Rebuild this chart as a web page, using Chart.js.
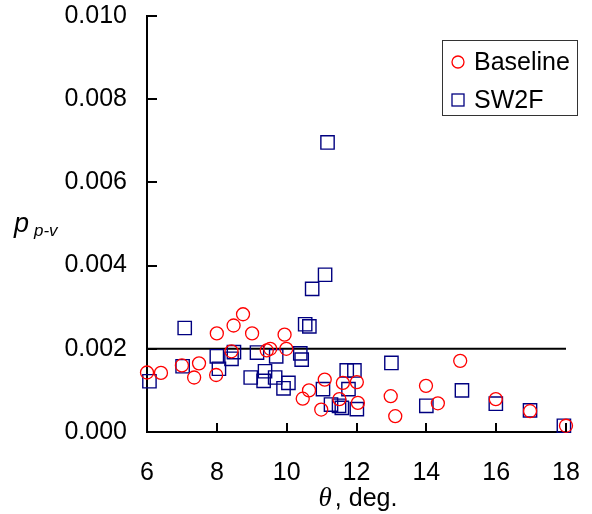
<!DOCTYPE html>
<html>
<head>
<meta charset="utf-8">
<script src="https://cdn.jsdelivr.net/npm/chart.js"></script>
<style>
  html, body { margin: 0; padding: 0; background: #fff; }
  #wrap { width: 592px; height: 514px; }
</style>
</head>
<body>
<div id="wrap"><canvas id="c" width="592" height="514"></canvas></div>
<script>
"use strict";

// datos (theta en grados, p_p-v)
const baselineTheta = [6.0, 6.4, 7.0, 7.35, 7.49, 8.0, 7.98, 8.48, 8.75, 9.01, 8.42, 9.43, 9.53, 9.94, 9.99,
  10.46, 10.64, 10.99, 11.09, 11.61, 12.01, 11.51, 12.04, 12.98, 13.11, 13.99, 14.33, 14.97, 15.99, 16.97, 18.0];
const baselineP = [0.00143, 0.00142, 0.00160, 0.00131, 0.00165, 0.00237, 0.00137, 0.00256, 0.00283, 0.00237, 0.00194, 0.00196, 0.00200, 0.00234, 0.00200,
  0.00080, 0.00100, 0.00054, 0.00126, 0.00118, 0.00120, 0.00079, 0.00070, 0.00086, 0.00038, 0.00111, 0.00069, 0.00171, 0.00079, 0.00050, 0.00015];

const sw2fTheta = [6.07, 7.08, 7.02, 8.0, 8.06, 8.42, 8.49, 8.97, 9.15, 9.34, 9.38, 9.7, 9.67, 9.91, 10.05,
  10.39, 10.43, 10.53, 10.65, 10.73, 11.1, 11.17, 11.04, 11.72, 11.94, 11.77, 11.27, 11.5, 11.58, 12.01,
  13.0, 14.0, 15.02, 15.99, 16.97, 17.94];
const sw2fP = [0.00122, 0.00250, 0.00158, 0.00182, 0.00152, 0.00176, 0.00192, 0.00131, 0.00191, 0.00123, 0.00146, 0.00182, 0.00131, 0.00105, 0.00118,
  0.00189, 0.00174, 0.00259, 0.00254, 0.00344, 0.00378, 0.00696, 0.00103, 0.00148, 0.00148, 0.00103, 0.00066, 0.00063, 0.00058, 0.00055,
  0.00166, 0.00063, 0.00100, 0.00068, 0.00052, 0.00015];

const limitTheta = [6, 18];
const limitP = [0.002, 0.002];

const xTicks = [6, 8, 10, 12, 14, 16, 18];
const yTicks = [0, 0.002, 0.004, 0.006, 0.008, 0.010];

const seriesNames = ['Baseline', 'SW2F'];
const RED = '#ff0000';
const NAVY = '#000080';
const FONT = "'Liberation Sans', Arial, sans-serif";

function toPoints(xs, ys) {
  return xs.map((x, i) => ({ x: x, y: ys[i] }));
}

// ticks hacia adentro, titulos de ejes y leyenda con recuadro
const decoPlugin = {
  id: 'deco',
  afterDraw(chart) {
    const ctx = chart.ctx;
    const xs = chart.scales.x, ys = chart.scales.y;
    const area = chart.chartArea;
    ctx.save();
    ctx.strokeStyle = '#000';
    ctx.lineWidth = 2;
    ctx.beginPath();
    yTicks.forEach(v => {
      const py = Math.round(ys.getPixelForValue(v));
      ctx.moveTo(area.left, py);
      ctx.lineTo(area.left + 10, py);
    });
    xTicks.forEach(v => {
      const px = Math.round(xs.getPixelForValue(v));
      ctx.moveTo(px, area.bottom);
      ctx.lineTo(px, area.bottom - 9);
    });
    ctx.stroke();

    // titulo eje y: p con subindice p-v
    ctx.fillStyle = '#000';
    ctx.textBaseline = 'alphabetic';
    ctx.textAlign = 'left';
    ctx.font = "italic 27px " + FONT;
    ctx.fillText('p', 14, 232);
    ctx.font = "italic 17px " + FONT;
    ctx.fillText('p-v', 34, 236);

    // titulo eje x
    const t1 = '\u03b8';
    const t2 = ', deg.';
    ctx.font = "italic 27px 'Liberation Serif', serif";
    const w1 = ctx.measureText(t1).width;
    ctx.font = "25px " + FONT;
    const w2 = ctx.measureText(t2).width;
    const cx = (area.left + area.right) / 2;
    const sx = cx - (w1 + w2) / 2;
    ctx.font = "italic 27px 'Liberation Serif', serif";
    ctx.fillText(t1, sx, 506);
    ctx.font = "25px " + FONT;
    ctx.fillText(t2, sx + w1 + 3, 506);

    // leyenda
    ctx.lineWidth = 1;
    ctx.strokeStyle = '#333';
    ctx.strokeRect(442.5, 40.5, 135, 75);
    ctx.lineWidth = 1.3;
    ctx.strokeStyle = RED;
    ctx.beginPath();
    ctx.arc(458, 62, 6, 0, Math.PI * 2);
    ctx.stroke();
    ctx.strokeStyle = NAVY;
    ctx.strokeRect(452, 94, 12, 12);
    ctx.textBaseline = 'middle';
    ctx.font = "25px " + FONT;
    ctx.fillText(seriesNames[0], 474, 63);
    ctx.fillText(seriesNames[1], 474, 101);
    ctx.restore();
  }
};

const ctx = document.getElementById('c').getContext('2d');
new Chart(ctx, {
  type: 'scatter',
  data: {
    datasets: [
      {
        label: seriesNames[1],
        data: toPoints(sw2fTheta, sw2fP),
        pointStyle: 'rect',
        pointRadius: 9.4,
        borderColor: NAVY,
        backgroundColor: 'transparent',
        borderWidth: 1.4,
        clip: false,
        order: 2
      },
      {
        label: seriesNames[0],
        data: toPoints(baselineTheta, baselineP),
        pointStyle: 'circle',
        pointRadius: 6.5,
        borderColor: RED,
        backgroundColor: 'transparent',
        borderWidth: 1.3,
        clip: false,
        order: 1
      },
      {
        type: 'line',
        label: 'limite',
        data: toPoints(limitTheta, limitP),
        borderColor: '#000',
        borderWidth: 2,
        pointRadius: 0,
        fill: false,
        order: 3
      }
    ]
  },
  options: {
    responsive: false,
    animation: false,
    layout: { padding: { top: 16, right: 26, left: 0, bottom: 0 } },
    plugins: {
      legend: { display: false },
      tooltip: { enabled: false }
    },
    scales: {
      x: {
        type: 'linear',
        min: 6,
        max: 18,
        afterFit(scale) {
          scale.height = 82;
          scale.paddingLeft = 0;
          scale.paddingRight = 0;
        },
        afterBuildTicks(scale) { scale.ticks = xTicks.map(v => ({ value: v })); },
        grid: { display: false, drawTicks: false },
        border: { display: true, color: '#000', width: 2 },
        ticks: {
          color: '#000',
          padding: 26,
          maxRotation: 0,
          font: { family: FONT, size: 25 },
          callback: v => String(v)
        }
      },
      y: {
        type: 'linear',
        min: 0,
        max: 0.010,
        afterFit(scale) {
          scale.width = 147;
          scale.paddingTop = 0;
          scale.paddingBottom = 0;
        },
        afterBuildTicks(scale) { scale.ticks = yTicks.map(v => ({ value: v })); },
        grid: { display: false, drawTicks: false },
        border: { display: true, color: '#000', width: 2 },
        ticks: {
          color: '#000',
          padding: 20,
          font: { family: FONT, size: 25 },
          callback: v => v.toFixed(3)
        }
      }
    }
  },
  plugins: [decoPlugin]
});
</script>
</body>
</html>
